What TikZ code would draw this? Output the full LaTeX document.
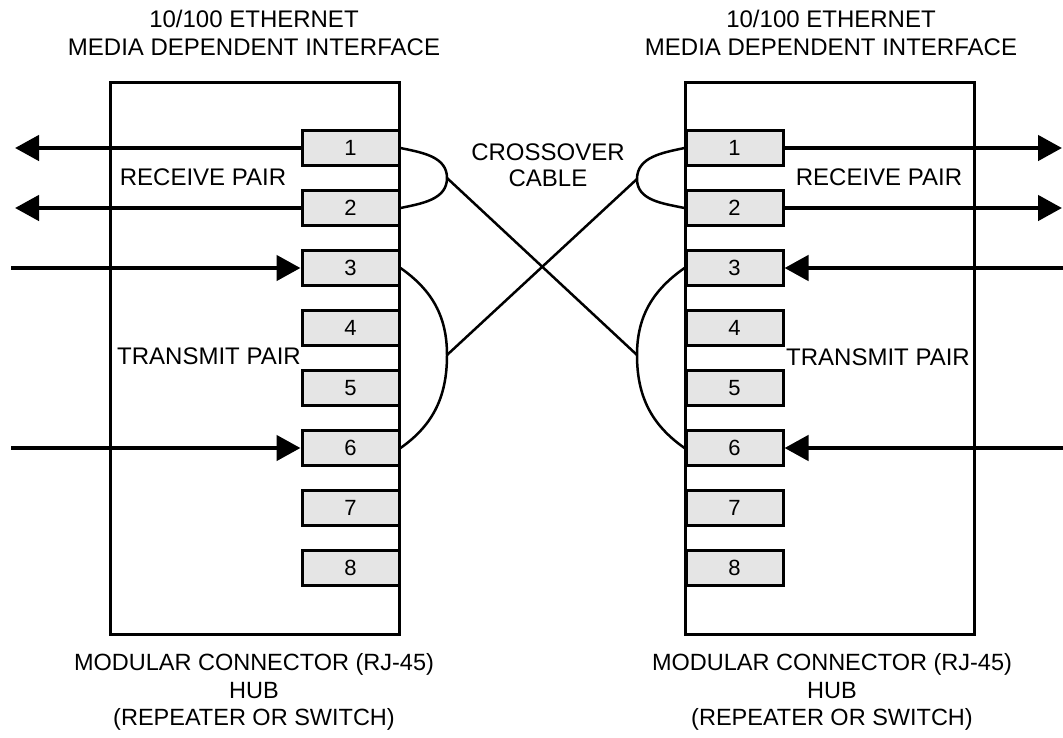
\documentclass[tikz,border=0pt]{standalone}
\usepackage{fontspec}
\setmainfont{Liberation Sans}
\usetikzlibrary{arrows.meta}
\definecolor{pingray}{RGB}{229,229,229}
\begin{document}
\begin{tikzpicture}[x=1pt,y=-1pt,
  lbl/.style={font=\fontsize{24}{28}\selectfont, inner sep=0pt, align=center},
  hubbox/.style={draw, line width=3pt, minimum width=289pt, minimum height=552pt, inner sep=0pt},
  pin/.style={draw, line width=3pt, fill=pingray, minimum width=97pt, minimum height=35pt, inner sep=0pt, font=\fontsize{22}{26}\selectfont},
  sig/.style={line width=4.6pt, -{Triangle[length=24pt,width=25pt]}},
  cable/.style={line width=2.5pt}
]
\useasboundingbox (0,0) rectangle (1063,737);

% boxes
\node[hubbox] (Lbox) at (254.5,358) {};
\node[hubbox] (Rbox) at (830,358) {};

% pins
\foreach \i in {1,...,8} {
  \node[pin] (L\i) at (350.5,{148+60*(\i-1)}) {\i};
  \node[pin] (R\i) at (734.5,{148+60*(\i-1)}) {\i};
}

% free arrow ends
\coordinate (LO1) at (15,148);
\coordinate (LO2) at (15,208);
\coordinate (LI3) at (11,268);
\coordinate (LI6) at (11,448);
\coordinate (RO1) at (1062,148);
\coordinate (RO2) at (1062,208);
\coordinate (RI3) at (1063,268);
\coordinate (RI6) at (1063,448);

\draw[sig] (L1.west) -- (LO1);
\draw[sig] (L2.west) -- (LO2);
\draw[sig] (LI3) -- (L3.west);
\draw[sig] (LI6) -- (L6.west);
\draw[sig] (R1.east) -- (RO1);
\draw[sig] (R2.east) -- (RO2);
\draw[sig] (RI3) -- (R3.east);
\draw[sig] (RI6) -- (R6.east);

% cable junctions
\coordinate (JLr) at (447,178);
\coordinate (JLt) at (447,355);
\coordinate (JRr) at (637,179);
\coordinate (JRt) at (637,355);

\draw[cable] (L1.east) to[out=-12,in=90] (JLr) to[out=-90,in=12] (L2.east);
\draw[cable] (L3.east) to[out=-35,in=90] (JLt) to[out=-90,in=35] (L6.east);
\draw[cable] (R1.west) to[out=192,in=90] (JRr) to[out=-90,in=168] (R2.west);
\draw[cable] (R3.west) to[out=215,in=90] (JRt) to[out=-90,in=145] (R6.west);
\draw[cable] (JLr) -- (JRt);
\draw[cable] (JLt) -- (JRr);

% labels
\node[lbl] (tl) at (254,33) {10/100 ETHERNET\\MEDIA DEPENDENT INTERFACE};
\node[lbl] (tr) at (831,33) {10/100 ETHERNET\\MEDIA DEPENDENT INTERFACE};
\node[lbl] (rxl) at (203,177) {RECEIVE PAIR};
\node[lbl] (rxr) at (879,177) {RECEIVE PAIR};
\node[lbl] (txl) at (209,356) {TRANSMIT PAIR};
\node[lbl] (txr) at (878,357) {TRANSMIT PAIR};
\node[lbl] (cross) at (548,165) {CROSSOVER\\[-1.5pt]CABLE};
\node[lbl, font=\fontsize{23.5}{27.5}\selectfont] (bl) at (254,692) {MODULAR CONNECTOR (RJ-45)\\HUB\\(REPEATER OR SWITCH)};
\node[lbl, font=\fontsize{23.5}{27.5}\selectfont] (br) at (832,692) {MODULAR CONNECTOR (RJ-45)\\HUB\\(REPEATER OR SWITCH)};
\end{tikzpicture}
\end{document}
